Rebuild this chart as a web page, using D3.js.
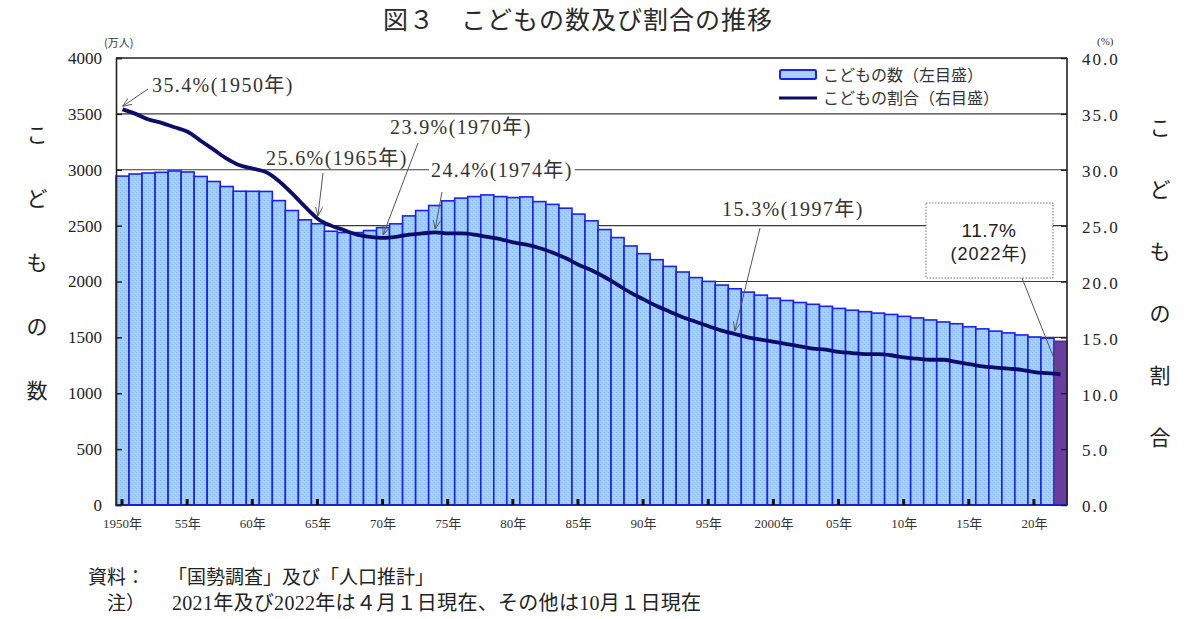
<!DOCTYPE html>
<html><head><meta charset="utf-8">
<script src="https://cdn.jsdelivr.net/npm/d3@7"></script>
<style>
html,body{margin:0;padding:0;background:#fff;}
svg{display:block;}
</style></head>
<body>
<svg id="chart" width="1200" height="619"></svg>
<script>
// ---- data ----
const years = [1950,1951,1952,1953,1954,1955,1956,1957,1958,1959,1960,1961,1962,1963,1964,1965,1966,1967,1968,1969,
1970,1971,1972,1973,1974,1975,1976,1977,1978,1979,1980,1981,1982,1983,1984,1985,1986,1987,1988,1989,
1990,1991,1992,1993,1994,1995,1996,1997,1998,1999,2000,2001,2002,2003,2004,2005,2006,2007,2008,2009,
2010,2011,2012,2013,2014,2015,2016,2017,2018,2019,2020,2021,2022];
const childCount = [2943,2962,2971,2977,2989,2980,2940,2895,2850,2808,2807,2806,2724,2635,2552,2517,2450,2438,2438,2456,
2482,2516,2587,2635,2680,2722,2746,2760,2775,2760,2751,2757,2715,2690,2656,2603,2543,2465,2393,2318,
2249,2195,2135,2085,2035,2001,1968,1935,1905,1878,1851,1830,1812,1796,1778,1759,1743,1730,1717,1705,
1688,1674,1656,1638,1622,1595,1576,1556,1540,1522,1503,1493,1465];
const childRatio = [35.4,35.0,34.5,34.2,33.8,33.4,32.6,31.8,31.0,30.4,30.1,29.8,29.0,27.9,26.7,25.6,25.0,24.6,24.2,24.0,
23.9,24.0,24.2,24.3,24.4,24.3,24.3,24.2,24.0,23.8,23.5,23.3,23.0,22.6,22.1,21.5,21.0,20.4,19.7,19.0,
18.4,17.8,17.3,16.8,16.4,16.0,15.6,15.3,15.0,14.8,14.6,14.4,14.2,14.0,13.9,13.7,13.6,13.5,13.5,13.4,
13.2,13.1,13.0,13.0,12.8,12.6,12.4,12.3,12.2,12.1,11.9,11.8,11.7];
const leftTicks = [0,500,1000,1500,2000,2500,3000,3500,4000];
const rightTicks = [0,5,10,15,20,25,30,35,40];
const tickYears = [1950,1955,1960,1965,1970,1975,1980,1985,1990,1995,2000,2005,2010,2015,2020];
const tickLabels = ["1950年","55年","60年","65年","70年","75年","80年","85年","90年","95年","2000年","05年","10年","15年","20年"];
const highlightYear = 2022;
const annotations = [
  {year:1950, text:"35.4%(1950年)", tx:152, ty:92, ax:148, ay:89, bg:false},
  {year:1965, text:"25.6%(1965年)", tx:266, ty:165, ax:323, ay:173, bg:false},
  {year:1970, text:"23.9%(1970年)", tx:390, ty:134, ax:418, ay:143, bg:false},
  {year:1974, text:"24.4%(1974年)", tx:431, ty:177, ax:442, ay:192, bg:true},
  {year:1997, text:"15.3%(1997年)", tx:722, ty:216, ax:760, ay:228, bg:false}
];
const boxNote = {year:2022, lines:["11.7%","(2022年)"]};

// ---- layout ----
const svg = d3.select("#chart");
const L = 116, R = 1067, T = 58, B = 505;
const serif = "'Liberation Serif','Noto Sans CJK JP',serif";
const jp = "'Noto Sans CJK JP','Noto Sans',sans-serif";

const x = d3.scaleBand().domain(years).range([L, R]).padding(0);
const yL = d3.scaleLinear().domain([0, 4000]).range([B, T]);
const yR = d3.scaleLinear().domain([0, 40]).range([B, T]);
const cx = yr => x(yr) + x.bandwidth() / 2;

// speckle pattern for bars
const defs = svg.append("defs");
const pat = defs.append("pattern").attr("id","speck").attr("patternUnits","userSpaceOnUse")
  .attr("width",4).attr("height",4);
pat.append("rect").attr("width",4).attr("height",4).attr("fill","#a0cdfb");
pat.append("rect").attr("x",0).attr("y",0).attr("width",1).attr("height",1).attr("fill","#8dbcf2");
pat.append("rect").attr("x",2).attr("y",2).attr("width",1).attr("height",1).attr("fill","#93c1f4");
pat.append("rect").attr("x",3).attr("y",1).attr("width",1).attr("height",1).attr("fill","#b2d8ff");
defs.append("marker").attr("id","arrow").attr("viewBox","0 0 10 10").attr("refX",10).attr("refY",5)
  .attr("markerWidth",9).attr("markerHeight",9).attr("orient","auto-start-reverse").attr("markerUnits","userSpaceOnUse")
  .append("path").attr("d","M0,1 L10,5 L0,9").attr("fill","none").attr("stroke","#555").attr("stroke-width",1);

// title
svg.append("text").attr("x",383).attr("y",29).attr("font-family",jp).attr("font-size",25)
  .attr("fill","#2a2a2a").attr("letter-spacing",1).text("図３　こどもの数及び割合の推移");

// gridlines
svg.append("g").selectAll("line").data(leftTicks.filter(d => d > 0 && d < 4000)).join("line")
  .attr("x1",L).attr("x2",R).attr("y1",d=>yL(d)).attr("y2",d=>yL(d))
  .attr("stroke","#3a3a3a").attr("stroke-width",1.2);

// bars
svg.append("g").selectAll("rect").data(years).join("rect")
  .attr("x",d=>x(d)).attr("width",x.bandwidth())
  .attr("y",(d,i)=>yL(childCount[i])).attr("height",(d,i)=>B - yL(childCount[i]))
  .attr("fill",d=> d===highlightYear ? "#6a3d9f" : "url(#speck)")
  .attr("stroke",d=> d===highlightYear ? "#4b2fa8" : "#1a22f0").attr("stroke-width",1.6);

// frame
svg.append("line").attr("x1",L).attr("x2",R).attr("y1",T).attr("y2",T).attr("stroke","#222").attr("stroke-width",1.6);
svg.append("line").attr("x1",R).attr("x2",R).attr("y1",T).attr("y2",B).attr("stroke","#222").attr("stroke-width",1.6);
svg.append("line").attr("x1",L).attr("x2",R).attr("y1",B).attr("y2",B).attr("stroke","#1a22c0").attr("stroke-width",2);

// axes
const axL = svg.append("g").attr("transform",`translate(${L},0)`)
  .call(d3.axisLeft(yL).tickValues(leftTicks).tickSize(-6).tickPadding(14).tickFormat(d3.format("d")));
axL.select(".domain").attr("stroke","#222").attr("stroke-width",1.6);
axL.selectAll(".tick line").attr("stroke","#222").attr("stroke-width",1.5);
axL.selectAll("text").attr("font-family",serif).attr("font-size",17).attr("fill","#222");

const axR = svg.append("g").attr("transform",`translate(${R},0)`)
  .call(d3.axisRight(yR).tickValues(rightTicks).tickSize(-6).tickPadding(15).tickFormat(d3.format(".1f")));
axR.select(".domain").remove();
axR.selectAll(".tick line").attr("stroke","#222").attr("stroke-width",1.5);
axR.selectAll("text").attr("font-family",serif).attr("font-size",17).attr("fill","#222").attr("letter-spacing",2).attr("dy","0.4em");

// x ticks and labels
svg.append("g").selectAll("rect").data(tickYears).join("rect")
  .attr("x",d=>cx(d)-2).attr("y",B-6).attr("width",3).attr("height",6).attr("fill","#111");
svg.append("g").selectAll("text").data(tickYears).join("text")
  .attr("x",d=>cx(d)).attr("y",528).attr("text-anchor","middle")
  .attr("font-family",serif).attr("font-size",13).attr("fill","#333")
  .text((d,i)=>tickLabels[i]);

// unit labels
svg.append("text").attr("x",104).attr("y",47).attr("font-family",jp).attr("font-size",11).attr("fill","#333").text("(万人)");
svg.append("text").attr("x",1097).attr("y",45).attr("font-family",serif).attr("font-size",11).attr("fill","#333").text("(%)");

// vertical axis titles
svg.append("g").selectAll("text").data("こどもの数".split("")).join("text")
  .attr("x",37).attr("y",(d,i)=>142 + i*64).attr("text-anchor","middle")
  .attr("font-family",jp).attr("font-size",21).attr("fill","#222").text(d=>d);
svg.append("g").selectAll("text").data("こどもの割合".split("")).join("text")
  .attr("x",1160).attr("y",(d,i)=>135 + i*62).attr("text-anchor","middle")
  .attr("font-family",jp).attr("font-size",21).attr("fill","#222").text(d=>d);

// ratio line
const line = d3.line().x((d,i)=>cx(years[i])).y(d=>yR(d)).curve(d3.curveMonotoneX);
svg.append("path").datum(childRatio).attr("d",line).attr("fill","none")
  .attr("stroke","#0c0c6a").attr("stroke-width",3.8).attr("stroke-linejoin","round");

// annotations
const ag = svg.append("g");
annotations.forEach(a => {
  const i = years.indexOf(a.year);
  const t = ag.append("text").attr("x",a.tx).attr("y",a.ty).attr("font-family",serif)
    .attr("font-size",20).attr("fill","#333").attr("letter-spacing",1.4).text(a.text);
  if (a.bg) {
    const bb = t.node().getBBox();
    ag.insert("rect", () => t.node()).attr("x",bb.x-2).attr("y",bb.y+2).attr("width",bb.width+4).attr("height",bb.height-4).attr("fill","#fff");
  }
  ag.append("line").attr("x1",a.ax).attr("y1",a.ay).attr("x2",cx(a.year)).attr("y2",yR(childRatio[i])-3)
    .attr("stroke","#555").attr("stroke-width",1).attr("marker-end","url(#arrow)");
});

// 2022 box note
const bi = years.indexOf(boxNote.year);
svg.append("rect").attr("x",926).attr("y",203).attr("width",127).attr("height",75)
  .attr("fill","#fff").attr("stroke","#777").attr("stroke-width",1).attr("stroke-dasharray","1.5,1.5");
svg.append("text").attr("x",989).attr("y",237).attr("text-anchor","middle").attr("font-family","'Liberation Sans',Arial,sans-serif")
  .attr("font-size",19).attr("fill","#222").attr("letter-spacing",0.5).text(boxNote.lines[0]);
svg.append("text").attr("x",989).attr("y",260).attr("text-anchor","middle").attr("font-family","'Liberation Sans','Noto Sans CJK JP',sans-serif")
  .attr("font-size",18).attr("fill","#222").attr("letter-spacing",1).text(boxNote.lines[1]);
svg.append("line").attr("x1",1022).attr("y1",278).attr("x2",cx(boxNote.year)-1).attr("y2",yR(childRatio[bi])-2)
  .attr("stroke","#555").attr("stroke-width",1).attr("marker-end","url(#arrow)");

// legend
svg.append("rect").attr("x",780).attr("y",70).attr("width",36).attr("height",9)
  .attr("fill","#a8d0f8").attr("stroke","#1a22f0").attr("stroke-width",2).attr("rx",1.5);
svg.append("line").attr("x1",779).attr("x2",817).attr("y1",98).attr("y2",98).attr("stroke","#0c0c6a").attr("stroke-width",3);
svg.append("text").attr("x",823).attr("y",81).attr("font-family",jp).attr("font-size",16).attr("fill","#333").text("こどもの数（左目盛）");
svg.append("text").attr("x",823).attr("y",104).attr("font-family",jp).attr("font-size",16).attr("fill","#333").text("こどもの割合（右目盛）");

// notes
svg.append("text").attr("x",88).attr("y",584).attr("font-family",serif).attr("font-size",19).attr("fill","#222").text("資料：");
svg.append("text").attr("x",168).attr("y",584).attr("font-family",serif).attr("font-size",19).attr("fill","#222").text("「国勢調査」及び「人口推計」");
svg.append("text").attr("x",107).attr("y",610).attr("font-family",serif).attr("font-size",19).attr("fill","#222").text("注）");
svg.append("text").attr("x",172).attr("y",610).attr("font-family",serif).attr("font-size",20).attr("fill","#222").attr("letter-spacing",0.3).text("2021年及び2022年は４月１日現在、その他は10月１日現在");
</script>
</body></html>
